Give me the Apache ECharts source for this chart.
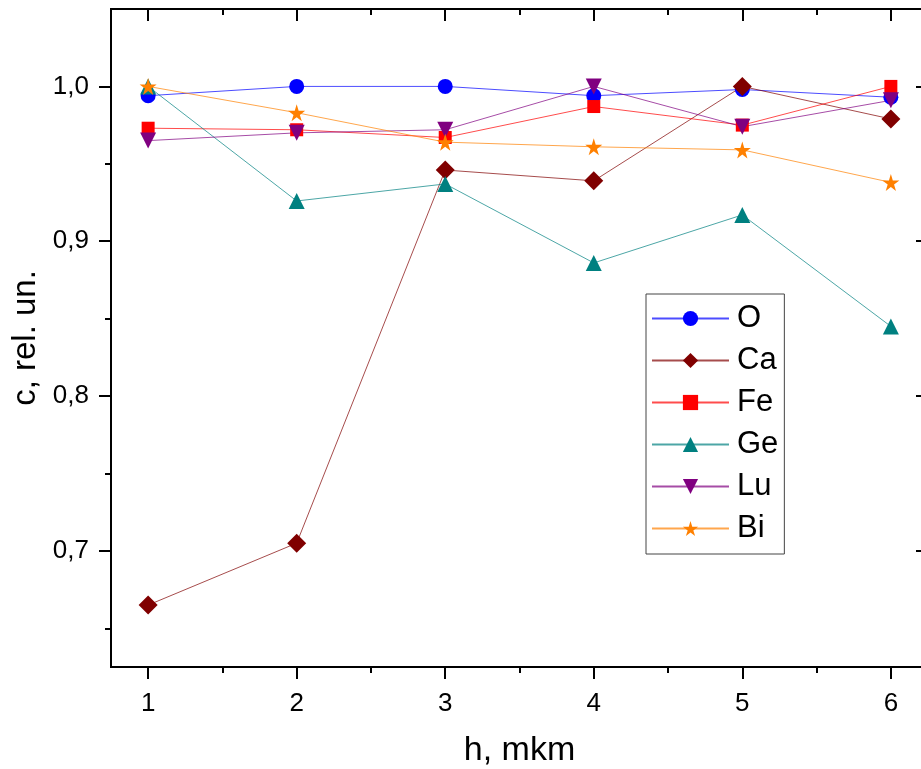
<!DOCTYPE html>
<html>
<head>
<meta charset="utf-8">
<script src="https://cdn.jsdelivr.net/npm/echarts@6/dist/echarts.min.js"></script>
<style>
  html, body { margin: 0; padding: 0; background: #fff; overflow: hidden; }
  /* the plot frame runs past the right edge of the picture, so the canvas is wider than the window */
  #chart { width: 932px; height: 769px; }
</style>
</head>
<body>
<div id="chart"></div>
<script>
  // depth, mkm
  var hValues = [1, 2, 3, 4, 5, 6];
  // relative concentration per element
  var O  = [0.994, 1.000, 1.000, 0.994, 0.998, 0.993];
  var Ca = [0.665, 0.705, 0.946, 0.939, 1.000, 0.979];
  var Fe = [0.973, 0.972, 0.967, 0.987, 0.975, 1.000];
  var Ge = [1.000, 0.926, 0.937, 0.886, 0.917, 0.845];
  var Lu = [0.965, 0.970, 0.972, 1.000, 0.974, 0.991];
  var Bi = [1.000, 0.983, 0.964, 0.961, 0.959, 0.938];

  var names = ['O', 'Ca', 'Fe', 'Ge', 'Lu', 'Bi'];
  var xMajor = [1, 2, 3, 4, 5, 6];
  var xMinor = [1.5, 2.5, 3.5, 4.5, 5.5];
  var yMajor = [0.7, 0.8, 0.9, 1.0];
  var yMinor = [0.65, 0.75, 0.85, 0.95];

  var starPath = 'path://M50,0 L61,35 L98,35 L68,57 L79,91 L50,70 L21,91 L32,57 L2,35 L39,35 Z';
  var fontFam = '"Liberation Sans", Arial, sans-serif';

  function pts(arr) {
    return hValues.map(function (h, i) { return [h, arr[i]]; });
  }

  function mkSeries(name, arr, color, symbol, size, rotate) {
    return {
      name: name,
      type: 'line',
      data: pts(arr),
      symbol: symbol,
      symbolSize: size,
      symbolRotate: rotate || 0,
      itemStyle: { color: color, borderWidth: 0 },
      lineStyle: { color: color, width: 1, opacity: 0.7 },
      emphasis: { disabled: true },
      animation: false,
      z: 3
    };
  }

  var axisLine = { show: true, lineStyle: { color: '#000', width: 2 } };
  function xAx(pos, ticks, len, inside, labels) {
    return {
      type: 'value', position: pos, min: 0.75, max: 6.25,
      axisLine: axisLine,
      axisTick: { show: true, customValues: ticks, length: len, inside: inside, lineStyle: { color: '#000', width: 2 } },
      axisLabel: labels ? { show: true, customValues: ticks, fontSize: 26, color: '#000', margin: 24, fontFamily: fontFam } : { show: false },
      splitLine: { show: false }
    };
  }
  function yAx(pos, ticks, len, inside, labels) {
    return {
      type: 'value', position: pos, min: 0.625, max: 1.05,
      axisLine: axisLine,
      axisTick: { show: true, customValues: ticks, length: len, inside: inside, lineStyle: { color: '#000', width: 2 } },
      axisLabel: labels ? {
        show: true, customValues: ticks, fontSize: 26, color: '#000', margin: 22, fontFamily: fontFam,
        formatter: function (v) { return v.toFixed(1).replace('.', ','); }
      } : { show: false },
      splitLine: { show: false }
    };
  }

  var xMain = xAx('bottom', xMajor, 12, false, true);
  xMain.name = 'h, mkm';
  xMain.nameLocation = 'middle';
  xMain.nameGap = 67;
  xMain.nameTextStyle = { fontSize: 34, color: '#000', fontFamily: fontFam };

  var yMain = yAx('left', yMajor, 12, false, true);
  yMain.name = 'c, rel. un.';
  yMain.nameLocation = 'middle';
  yMain.nameGap = 64;
  yMain.nameTextStyle = { fontSize: 33, color: '#000', fontFamily: fontFam };

  var chart = echarts.init(document.getElementById('chart'));
  chart.setOption({
    backgroundColor: '#fff',
    animation: false,
    grid: { left: 111, top: 9, width: 817, height: 658, outerBoundsMode: 'none', containLabel: false },
    xAxis: [
      xMain,
      xAx('bottom', xMinor, 6, false, false),
      xAx('top', xMajor, 12, true, false),
      xAx('top', xMinor, 6, true, false)
    ],
    yAxis: [
      yMain,
      yAx('left', yMinor, 6, false, false),
      yAx('right', yMajor, 12, true, false),
      yAx('right', yMinor, 6, true, false)
    ],
    legend: {
      data: names,
      orient: 'vertical',
      left: 646,
      top: 294,
      padding: [9, 6, 10, 5],
      itemWidth: 77,
      itemHeight: 19,
      itemGap: 11,
      borderColor: '#444',
      borderWidth: 1,
      textStyle: { fontSize: 31, lineHeight: 30, color: '#000', fontFamily: fontFam, padding: [0, 0, 0, 3] }
    },
    series: [
      mkSeries('O', O, '#0000ff', 'circle', 15),
      mkSeries('Ca', Ca, '#800000', 'diamond', 19),
      mkSeries('Fe', Fe, '#ff0000', 'rect', 13),
      mkSeries('Ge', Ge, '#008080', 'triangle', 16),
      mkSeries('Lu', Lu, '#800080', 'triangle', 16, 180),
      mkSeries('Bi', Bi, '#ff8000', starPath, 17)
    ]
  });
</script>
</body>
</html>
